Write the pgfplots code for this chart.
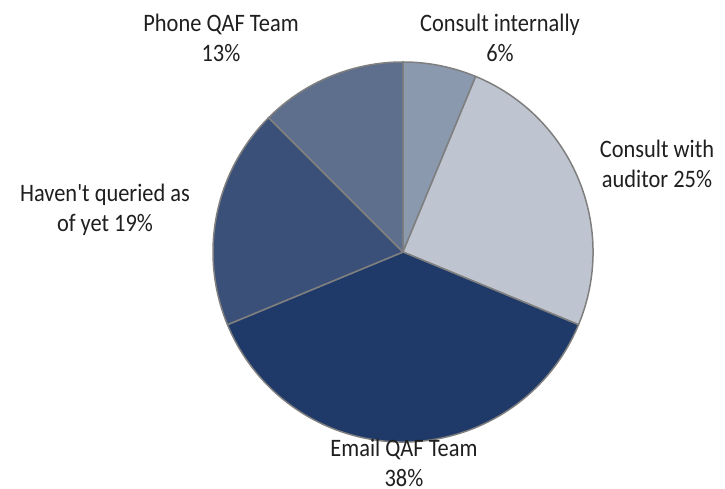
\documentclass[border=0pt]{standalone}
\usepackage{pgfplots}
\usepackage{pgfplotstable}
\pgfplotsset{compat=1.18}
\usepackage{fontspec}
\setmainfont{Carlito}[Ligatures=TeXOff]
\definecolor{cInt}{HTML}{8B99AF}
\definecolor{cAud}{HTML}{BFC5D0}
\definecolor{cEmail}{HTML}{1F3A68}
\definecolor{cHav}{HTML}{3B5078}
\definecolor{cPhone}{HTML}{5E6F8D}
\definecolor{cEdge}{HTML}{7F7F7F}
% responses (out of 16): share of each answer
\pgfplotstableread{
n col
1 cInt
4 cAud
6 cEmail
3 cHav
2 cPhone
}\data
\begin{document}
\begin{tikzpicture}
\useasboundingbox (0,0) rectangle (725bp,489bp);
\begin{axis}[
  at={(0,0)}, anchor=south west,
  scale only axis, width=725bp, height=489bp,
  xmin=0, xmax=725, ymin=0, ymax=489,
  hide axis, clip=false,
]
\def\cx{403}\def\cy{237}\def\R{190}
\def\tot{0}
\pgfplotsforeachungrouped \i in {0,...,4}{%
  \pgfplotstablegetelem{\i}{n}\of\data
  \pgfmathsetmacro{\tot}{\tot+\pgfplotsretval}%
}
\def\cum{0}
\pgfplotsforeachungrouped \i in {0,...,4}{%
  \pgfplotstablegetelem{\i}{n}\of\data \let\val\pgfplotsretval
  \pgfplotstablegetelem{\i}{col}\of\data \let\col\pgfplotsretval
  \pgfmathsetmacro{\a}{90-\cum*360/\tot}%
  \pgfmathsetmacro{\b}{90-(\cum+\val)*360/\tot}%
  \pgfmathsetmacro{\px}{\cx+\R*cos(\a)}%
  \pgfmathsetmacro{\py}{\cy+\R*sin(\a)}%
  \edef\temp{\noexpand\filldraw[fill=\col, draw=cEdge, line width=1.5bp, line join=round]
    (axis cs:\cx,\cy) -- (axis cs:\px,\py) arc[start angle=\a, end angle=\b, radius=\R] -- cycle;}%
  \temp
  \pgfmathsetmacro{\cum}{\cum+\val}%
}
\tikzset{lbl/.style={font=\fontsize{22.5}{27}\selectfont, align=center, text=black!88,
  inner sep=0pt, yscale=1.12, transform shape}}
\node[lbl] at (axis cs:221,451) {Phone QAF Team\\13\%};
\node[lbl] at (axis cs:500,451) {Consult internally\\6\%};
\node[lbl] at (axis cs:657,325) {Consult with\\auditor 25\%};
\node[lbl] at (axis cs:105,279) {Haven't queried as\\of yet 19\%};
\node[lbl] at (axis cs:404,26) {Email QAF Team\\38\%};
\end{axis}
\end{tikzpicture}
\end{document}
